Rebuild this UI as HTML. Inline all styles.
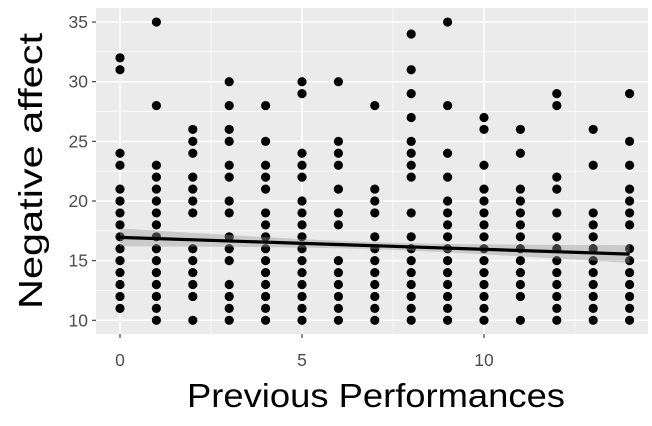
<!DOCTYPE html>
<html><head><meta charset="utf-8"><style>body{margin:0;background:#fff}svg{display:block}</style></head>
<body>
<svg id="chart" width="652" height="426" xmlns="http://www.w3.org/2000/svg" font-family="Liberation Sans, Arial, sans-serif"></svg>
<script>
const xCategories = [0,1,2,3,4,5,6,7,8,9,10,11,12,13,14];
const yValues = [
 [32,31,24,23,21,20,19,18,17,16,15,14,13,12,11],
 [35,28,23,22,21,20,19,18,17,16,15,14,13,12,11,10],
 [26,25,24,22,21,20,19,16,15,14,13,12,10],
 [30,28,26,25,23,22,20,19,17,16,15,13,12,11,10],
 [28,25,23,22,21,19,18,17,16,15,14,13,12,11,10],
 [30,29,24,23,22,20,19,18,17,16,15,14,13,12,11,10],
 [30,25,24,23,21,19,18,15,14,13,12,11,10],
 [28,21,20,19,17,16,15,14,13,12,11,10],
 [34,31,29,27,25,24,23,22,19,17,16,15,14,13,12,11,10],
 [35,28,24,22,20,19,18,17,16,15,14,13,12,11,10],
 [27,26,23,21,20,19,18,17,16,15,14,13,12,11,10],
 [26,24,21,20,19,18,17,16,15,14,13,12,10],
 [29,28,22,21,19,17,16,15,14,13,12,11,10],
 [26,23,19,18,17,16,15,14,13,12,11,10],
 [29,25,23,21,20,19,18,16,15,14,13,12,11,10]
];
const fitIntercept = [16.95];
const fitSlope = [-0.1];
const fitBandEnd = [0.75];
const fitBandMid = [0.3];
const xTicks = [0,5,10];
const yTicks = [10,15,20,25,30,35];

const svg = document.getElementById('chart');
const NS = 'http://www.w3.org/2000/svg';
const L=96,R=648,T=8,B=334;
const sx = v => 120 + v*36.4;
const sy = v => 320.3 - (v-10)*11.93;
function mk(tag, attrs, parent){const e=document.createElementNS(NS,tag);for(const k in attrs)e.setAttribute(k,attrs[k]);(parent||svg).appendChild(e);return e;}

const panel = mk('rect',{x:L,y:T,width:R-L,height:B-T,fill:'#ebebeb'});


const grid = mk('g',{});


for(let v=12.5; v<35; v+=5) mk('line',{x1:L,x2:R,y1:sy(v),y2:sy(v),stroke:'#fff','stroke-width':0.7},grid);
for(let v=2.5; v<15; v+=5) mk('line',{y1:T,y2:B,x1:sx(v),x2:sx(v),stroke:'#fff','stroke-width':0.7},grid);
yTicks.forEach(v=>mk('line',{x1:L,x2:R,y1:sy(v),y2:sy(v),stroke:'#fff','stroke-width':1.5},grid));
xTicks.forEach(v=>mk('line',{y1:T,y2:B,x1:sx(v),x2:sx(v),stroke:'#fff','stroke-width':1.5},grid));

const pts = mk('g',{});


xCategories.forEach((x,i)=>yValues[i].forEach(y=>{
  const c=mk('circle',{cx:sx(x),cy:sy(y),r:4.6,fill:'#000'},pts);
  
  
}));

const b0=fitIntercept[0], b1=fitSlope[0];
const x0=xCategories[0],x1=xCategories[xCategories.length-1], xm=(x0+x1)/2;
let up=[],lo=[];
for(let k=0;k<=40;k++){
  const x=x0+(x1-x0)*k/40;
  const t=(x-xm)/(x1-xm);
  const se=Math.sqrt(fitBandMid[0]**2+(fitBandEnd[0]**2-fitBandMid[0]**2)*t*t);
  const f=b0+b1*x;
  up.push(sx(x)+','+sy(f+se));lo.unshift(sx(x)+','+sy(f-se));
}
const rib=mk('polygon',{points:up.concat(lo).join(' '),fill:'#999','fill-opacity':0.4});


const ln=mk('line',{x1:sx(x0),y1:sy(b0+b1*x0),x2:sx(x1),y2:sy(b0+b1*x1),stroke:'#000','stroke-width':3.2});



const ax = mk('g',{});


yTicks.forEach(v=>{
  mk('line',{x1:L-4,x2:L,y1:sy(v),y2:sy(v),stroke:'#333','stroke-width':1.1},ax);
  const t=mk('text',{x:L-8,y:sy(v)+6,'text-anchor':'end','font-size':17.5,fill:'#4d4d4d'},ax);
  t.textContent=v;
  
  
});
xTicks.forEach(v=>{
  mk('line',{x1:sx(v),x2:sx(v),y1:B,y2:B+4,stroke:'#333','stroke-width':1.1},ax);
  const t=mk('text',{x:sx(v),y:366,'text-anchor':'middle','font-size':17.5,fill:'#4d4d4d'},ax);
  t.textContent=v;
  
  
});
const xt=mk('text',{x:376,y:407,'text-anchor':'middle','font-size':33,fill:'#000',textLength:378,lengthAdjust:'spacingAndGlyphs'});
xt.textContent='Previous Performances';


const yt=mk('text',{x:0,y:0,'text-anchor':'middle','font-size':33,fill:'#000',transform:'translate(42,171) rotate(-90)',textLength:276,lengthAdjust:'spacingAndGlyphs'});
yt.textContent='Negative affect';


</script>
</body></html>
